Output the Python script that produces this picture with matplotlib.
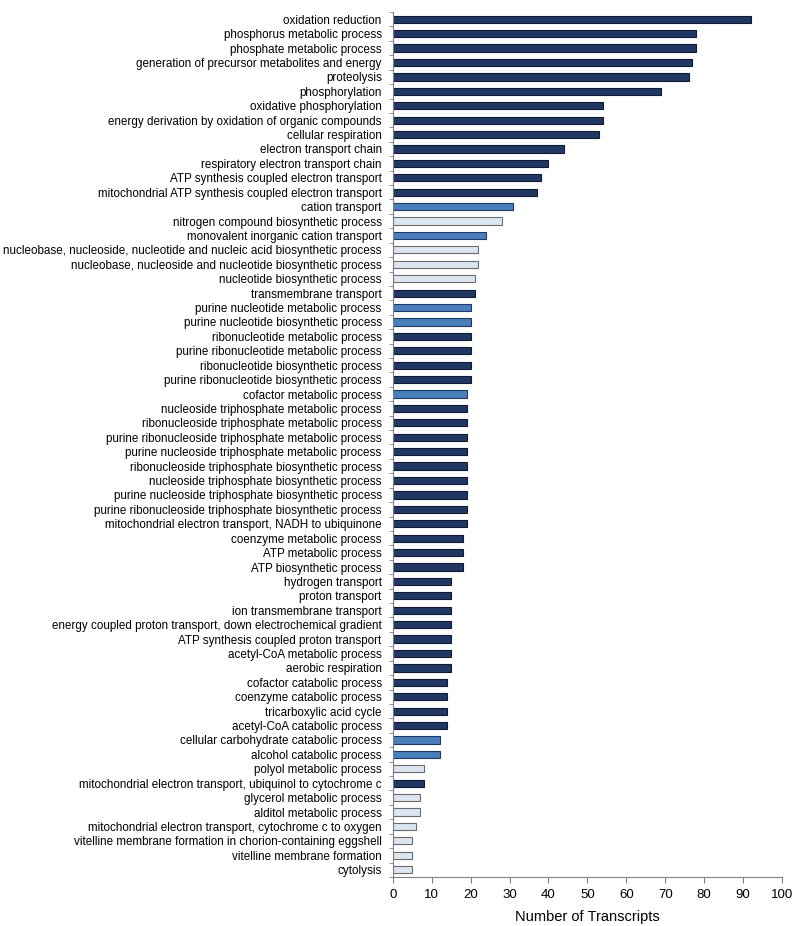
import numpy as np
import matplotlib
matplotlib.use("Agg")
import matplotlib.pyplot as plt
from matplotlib.ticker import FixedLocator

plt.rcParams['font.family'] = ['Liberation Sans', 'DejaVu Sans']

terms = [
    "oxidation reduction",
    "phosphorus metabolic process",
    "phosphate metabolic process",
    "generation of precursor metabolites and energy",
    "proteolysis",
    "phosphorylation",
    "oxidative phosphorylation",
    "energy derivation by oxidation of organic compounds",
    "cellular respiration",
    "electron transport chain",
    "respiratory electron transport chain",
    "ATP synthesis coupled electron transport",
    "mitochondrial ATP synthesis coupled electron transport",
    "cation transport",
    "nitrogen compound biosynthetic process",
    "monovalent inorganic cation transport",
    "nucleobase, nucleoside, nucleotide and nucleic acid biosynthetic process",
    "nucleobase, nucleoside and nucleotide biosynthetic process",
    "nucleotide biosynthetic process",
    "transmembrane transport",
    "purine nucleotide metabolic process",
    "purine nucleotide biosynthetic process",
    "ribonucleotide metabolic process",
    "purine ribonucleotide metabolic process",
    "ribonucleotide biosynthetic process",
    "purine ribonucleotide biosynthetic process",
    "cofactor metabolic process",
    "nucleoside triphosphate metabolic process",
    "ribonucleoside triphosphate metabolic process",
    "purine ribonucleoside triphosphate metabolic process",
    "purine nucleoside triphosphate metabolic process",
    "ribonucleoside triphosphate biosynthetic process",
    "nucleoside triphosphate biosynthetic process",
    "purine nucleoside triphosphate biosynthetic process",
    "purine ribonucleoside triphosphate biosynthetic process",
    "mitochondrial electron transport, NADH to ubiquinone",
    "coenzyme metabolic process",
    "ATP metabolic process",
    "ATP biosynthetic process",
    "hydrogen transport",
    "proton transport",
    "ion transmembrane transport",
    "energy coupled proton transport, down electrochemical gradient",
    "ATP synthesis coupled proton transport",
    "acetyl-CoA metabolic process",
    "aerobic respiration",
    "cofactor catabolic process",
    "coenzyme catabolic process",
    "tricarboxylic acid cycle",
    "acetyl-CoA catabolic process",
    "cellular carbohydrate catabolic process",
    "alcohol catabolic process",
    "polyol metabolic process",
    "mitochondrial electron transport, ubiquinol to cytochrome c",
    "glycerol metabolic process",
    "alditol metabolic process",
    "mitochondrial electron transport, cytochrome c to oxygen",
    "vitelline membrane formation in chorion-containing eggshell",
    "vitelline membrane formation",
    "cytolysis",
]

counts = [92, 78, 78, 77, 76, 69, 54, 54, 53, 44, 40, 38, 37,
          31, 28, 24, 22, 22, 21, 21, 20, 20, 20, 20, 20, 20,
          19, 19, 19, 19, 19, 19, 19, 19, 19, 19,
          18, 18, 18, 15, 15, 15, 15, 15, 15, 15,
          14, 14, 14, 14, 12, 12, 8, 8, 7, 7, 6, 5, 5, 5]

# group: d = dark, m = medium blue, l = light
groups = list("ddddddddddddd" "mlmllld" "mm" "dddd" "m" "ddddddddd"
              "ddd" "ddddddd" "dddd" "mm" "ld" "lllll" "l")

fill = {"d": "#1f3864", "m": "#4a7ebb", "l": "#dce6f2"}
edge = {"d": "#111a2e", "m": "#1f3864", "l": "#6b6b6b"}

fig = plt.figure(figsize=(8, 9.26), dpi=100)
ax = fig.add_axes([0.491, 0.053, 0.4865, 0.934])

y = np.arange(len(terms))
ax.barh(y, counts, height=0.5,
        color=[fill[g] for g in groups],
        edgecolor=[edge[g] for g in groups], linewidth=0.8)

ax.set_ylim(len(terms) - 0.5, -0.5)
ax.set_xlim(0, 100)
ax.set_xticks(np.arange(0, 101, 10))
ax.set_yticks(y)
ax.set_yticklabels(terms, fontsize=8.35)
ax.yaxis.set_minor_locator(FixedLocator(np.arange(-0.5, len(terms), 1)))
ax.tick_params(axis='y', which='major', length=0, pad=8)
ax.tick_params(axis='y', which='minor', length=3, color='#808080', direction='out')
ax.tick_params(axis='x', length=4, color='#808080', labelsize=9.5, pad=5)

for s in ['top', 'right']:
    ax.spines[s].set_visible(False)
for s in ['left', 'bottom']:
    ax.spines[s].set_color('#808080')

ax.set_xlabel("Number of Transcripts", fontsize=10.5, labelpad=6)

fig.savefig("out.png", dpi=100)
